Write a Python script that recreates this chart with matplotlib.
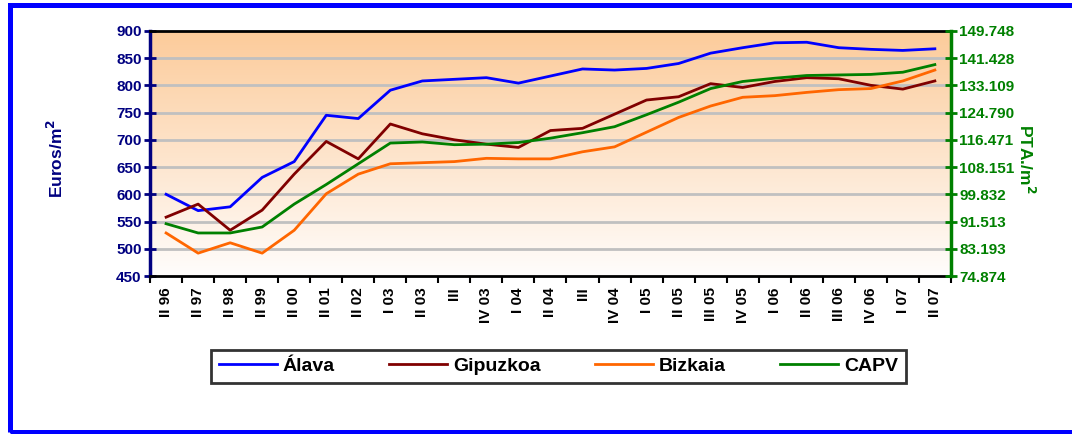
import matplotlib
matplotlib.use("Agg")
import matplotlib.pyplot as plt
import numpy as np
from matplotlib.colors import LinearSegmentedColormap
from matplotlib.patches import Rectangle

plt.rcParams['font.family'] = ['Liberation Sans', 'DejaVu Sans']
plt.rcParams['font.weight'] = 'bold'
plt.rcParams['mathtext.default'] = 'bf'

# trimestres
periodos = ['II 96', 'II 97', 'II 98', 'II 99', 'II 00', 'II 01', 'II 02', 'I 03',
            'II 03', 'III', 'IV 03', 'I 04', 'II 04', 'III', 'IV 04', 'I 05',
            'II 05', 'III 05', 'IV 05', 'I 06', 'II 06', 'III 06', 'IV 06', 'I 07', 'II 07']

alava = [600, 570, 577, 631, 660, 745, 739, 791, 808, 811, 814, 804, 817, 830,
         828, 831, 840, 859, 869, 878, 879, 869, 866, 864, 867]
gipuzkoa = [558, 582, 534, 571, 637, 697, 665, 729, 711, 700, 692, 686, 717, 721,
            747, 773, 779, 803, 796, 807, 814, 812, 800, 793, 808]
bizkaia = [529, 492, 511, 492, 534, 601, 637, 656, 658, 660, 666, 665, 665, 678,
           687, 714, 741, 762, 778, 781, 787, 792, 794, 808, 828]
capv = [546, 529, 529, 540, 582, 618, 656, 694, 696, 691, 692, 695, 703, 713,
        724, 746, 769, 794, 807, 813, 818, 819, 820, 824, 838]

euros_ticks = list(range(450, 901, 50))
pta_labels = ['74.874', '83.193', '91.513', '99.832', '108.151', '116.471',
              '124.790', '133.109', '141.428', '149.748']

fig = plt.figure(figsize=(10.72, 4.34), dpi=100)
ax = fig.add_axes([0.140, 0.364, 0.747, 0.565])

x = np.arange(len(periodos))
ax.set_xlim(-0.5, len(periodos) - 0.5)
ax.set_ylim(450, 900)

# fondo degradado
cmap = LinearSegmentedColormap.from_list('melocoton', ['#FFFDFC', '#FCCB9A'])
grad = np.linspace(0, 1, 256).reshape(-1, 1)
ax.imshow(grad, aspect='auto', cmap=cmap, origin='lower',
          extent=[-0.5, len(periodos) - 0.5, 450, 900], zorder=0)

for v in euros_ticks[1:-1]:
    ax.axhline(v, color='#C0C0C0', lw=2, zorder=1)

ax.plot(x, alava, color='#0000FF', lw=2, label='Álava', zorder=3)
ax.plot(x, gipuzkoa, color='#800000', lw=2, label='Gipuzkoa', zorder=3)
ax.plot(x, bizkaia, color='#FF6600', lw=2, label='Bizkaia', zorder=3)
ax.plot(x, capv, color='#008000', lw=2, label='CAPV', zorder=3)

ax.set_yticks(euros_ticks)
ax.set_yticklabels([str(v) for v in euros_ticks], color='#000080', fontsize=11, fontweight='bold')
ax.tick_params(axis='y', direction='inout', length=8, width=2, color='#000080', pad=2)

ax.set_xticks(np.arange(-0.5, len(periodos), 1), minor=False)
ax.set_xticklabels([])
ax.set_xticks(x, minor=True)
ax.set_xticklabels(periodos, minor=True, rotation=90, fontsize=11, fontweight='bold')
ax.tick_params(axis='x', which='major', direction='out', length=5, width=1.5, color='black')
ax.tick_params(axis='x', which='minor', length=0, pad=8)

for s in ['top', 'bottom']:
    ax.spines[s].set_color('black')
    ax.spines[s].set_linewidth(2)
ax.spines['left'].set_color('#000080')
ax.spines['left'].set_linewidth(2.5)
ax.spines['right'].set_visible(False)

ax.set_ylabel('Euros/m$^{2}$', color='#000080', fontsize=12.5, fontweight='bold')
ax.yaxis.set_label_coords(-0.105, 0.48)

ax2 = ax.twinx()
ax2.set_ylim(450, 900)
ax2.set_yticks(euros_ticks)
ax2.set_yticklabels(pta_labels, color='#008000', fontsize=11, fontweight='bold')
ax2.tick_params(axis='y', direction='inout', length=8, width=2, color='#008000', pad=2)
for s in ['top', 'bottom', 'left']:
    ax2.spines[s].set_visible(False)
ax2.spines['right'].set_color('#008000')
ax2.spines['right'].set_linewidth(2.5)
ax2.set_ylabel('PTA./m$^{2}$', color='#008000', fontsize=12.5, fontweight='bold', rotation=270)
ax2.yaxis.set_label_coords(1.107, 0.48)

leg = fig.legend(loc='lower left', bbox_to_anchor=(211 / 1072, 51 / 434, 695 / 1072, 36 / 434),
                 mode='expand', ncol=4, fontsize=14, handlelength=3.0, handletextpad=0.3,
                 frameon=True, fancybox=False, borderaxespad=0)
leg.get_frame().set_edgecolor('black')
leg.get_frame().set_linewidth(2)
for t in leg.get_texts():
    t.set_fontweight('bold')

# marco azul
fig.patches.append(Rectangle((9.5 / 1072, 2 / 434), 1.1, 427.5 / 434, transform=fig.transFigure,
                             fill=False, edgecolor='#0000FF', lw=3.6, clip_on=False))

fig.savefig('out.png', dpi=100)
